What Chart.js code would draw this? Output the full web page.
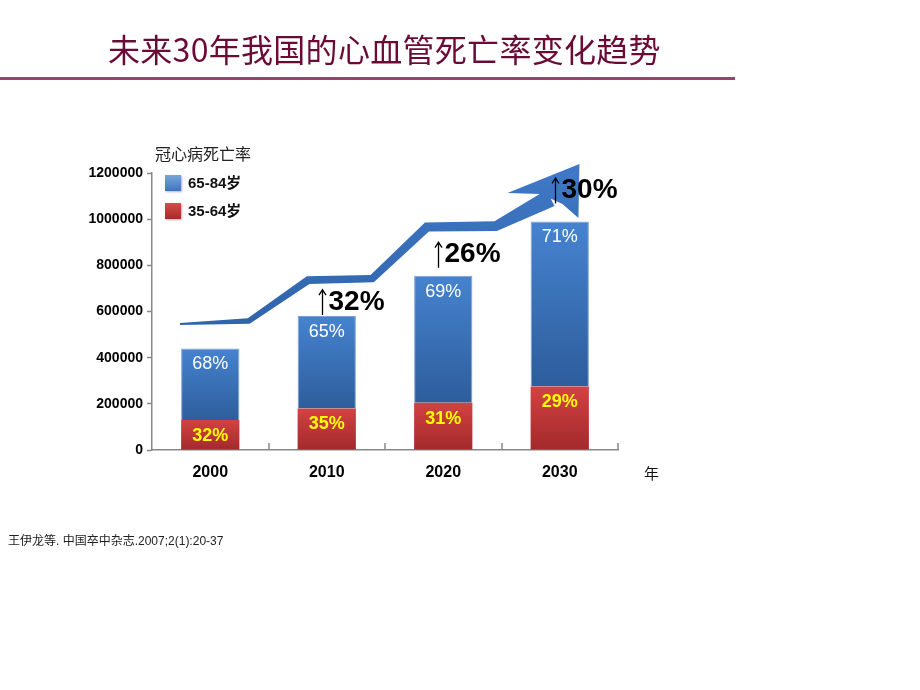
<!DOCTYPE html>
<html>
<head>
<meta charset="utf-8">
<script src="https://cdn.jsdelivr.net/npm/chart.js@4"></script>
<style>
  html, body { margin:0; padding:0; background:#fff; }
  #wrap { position:relative; width:920px; height:690px; overflow:hidden; }
  #c { position:absolute; left:0; top:0; }
  .txt { position:absolute; white-space:nowrap; }
  #title { left:108px; top:30px; font:32px/36px "Noto Sans CJK SC", sans-serif; color:#6a0b37; letter-spacing:0.3px; }
  #rule { position:absolute; left:0; top:77px; width:735px; height:3px; background:#a0406e; }
  #ytitle { left:155px; top:143px; font:16px/20px "Noto Sans CJK SC", sans-serif; color:#222; }
  #unit { left:644px; top:463px; font:15px/20px "Noto Sans CJK SC", sans-serif; color:#111; }
  #note { left:8px; top:533px; font:12px/16px "Liberation Sans", "Noto Sans CJK SC", sans-serif; color:#222; }
  .leg { position:absolute; left:165px; font:bold 15px/18px "Liberation Sans", "Noto Sans CJK SC", sans-serif; color:#111; }
  .leg i { display:inline-block; width:16px; height:16px; vertical-align:-3px; margin-right:7px; box-shadow:1px 1px 2px rgba(0,0,0,0.3); }
  .leg .b { background:linear-gradient(#7aa6dc, #3f74bd); }
  .leg .r { background:linear-gradient(#d84a4a, #a82a2a); }
</style>
</head>
<body>
<div id="wrap">
  <canvas id="c" width="920" height="690"></canvas>
  <div id="title" class="txt">未来30年我国的心血管死亡率变化趋势</div>
  <div id="rule"></div>
  <div id="ytitle" class="txt">冠心病死亡率</div>
  <div class="leg" style="top:174px"><i class="b"></i>65-84岁</div>
  <div class="leg" style="top:202px"><i class="r"></i>35-64岁</div>
  <div id="unit" class="txt">年</div>
  <div id="note" class="txt">王伊龙等. 中国卒中杂志.2007;2(1):20-37</div>
</div>
<script>
// data
const years = ["2000", "2010", "2020", "2030"];
const young = [130000, 180000, 205000, 275000];   // 35-64岁
const old = [310000, 400000, 550000, 715000];     // 65-84岁
const pctYoung = [32, 35, 31, 29];
const pctOld = [68, 65, 69, 71];
const growth = [null, "32%", "26%", "30%"];
const yMax = 1200000, yStep = 200000;
// trend arrow centre line (category index, value)
const trendIdx = [-0.26, 0.33, 0.84, 1.39, 1.86, 2.45, 2.92];
const trendVal = [546000, 559000, 736000, 742000, 966000, 970000, 1092000];

function barGrad(c, lo, hi, top, bot) {
  const ch = c.chart, y = ch.scales.y;
  if (!ch.chartArea || !y || c.dataIndex === undefined) return top;
  const i = c.dataIndex;
  const t = y.getPixelForValue(hi[i]), b = y.getPixelForValue(lo[i]);
  const g = ch.ctx.createLinearGradient(0, t, 0, b);
  g.addColorStop(0, top); g.addColorStop(1, bot);
  return g;
}

const trendArrow = {
  id: "trendArrow",
  beforeDatasetsDraw(chart) {
    const x = chart.scales.x, y = chart.scales.y, c = chart.ctx;
    const w = [2, 6, 8, 8, 10, 10, 18];
    const pts = trendIdx.map((v, i) => [x.getPixelForValue(v), y.getPixelForValue(trendVal[i])]);
    const up = [], dn = [];
    pts.forEach((p, i) => {
      const a = pts[Math.max(0, i - 1)], b = pts[Math.min(pts.length - 1, i + 1)];
      let tx = b[0] - a[0], ty = b[1] - a[1];
      const l = Math.hypot(tx, ty); tx /= l; ty /= l;
      const nx = ty, ny = -tx;
      up.push([p[0] + nx * w[i] / 2, p[1] + ny * w[i] / 2]);
      dn.push([p[0] - nx * w[i] / 2, p[1] - ny * w[i] / 2]);
    });
    const g = c.createLinearGradient(0, y.getPixelForValue(yMax), 0, y.getPixelForValue(500000));
    g.addColorStop(0, "#3f78c6"); g.addColorStop(1, "#2f63a9");
    c.save();
    c.fillStyle = g;
    c.beginPath();
    up.forEach((p, i) => i ? c.lineTo(p[0], p[1]) : c.moveTo(p[0], p[1]));
    dn.slice().reverse().forEach(p => c.lineTo(p[0], p[1]));
    c.closePath(); c.fill();
    // head
    const e = pts[pts.length - 1];
    c.beginPath();
    c.moveTo(e[0] - 43, e[1] - 5);
    c.lineTo(e[0] + 29, e[1] - 34);
    c.lineTo(e[0] + 28, e[1] + 20);
    c.lineTo(e[0] + 12, e[1] + 6);
    c.lineTo(e[0] - 10, e[1] - 4);
    c.closePath(); c.fill();
    c.restore();
  }
};

const barLabels = {
  id: "barLabels",
  afterDatasetsDraw(chart) {
    const c = chart.ctx;
    const mY = chart.getDatasetMeta(0), mO = chart.getDatasetMeta(1);
    const dy = [0, 14, 21, 31];
    c.save();
    c.textAlign = "center"; c.textBaseline = "middle";
    mY.data.forEach((b, i) => {
      c.font = 'bold 18px "Liberation Sans"'; c.fillStyle = "#ffff00";
      c.fillText(pctYoung[i] + "%", b.x, b.y + 16);
    });
    mO.data.forEach((b, i) => {
      c.textAlign = "center";
      c.font = '18px "Liberation Sans"'; c.fillStyle = "#ffffff";
      c.fillText(pctOld[i] + "%", b.x, b.y + 16);
      if (!growth[i]) return;
      const ax = Math.round(b.x - 5) + 0.5, cy = b.y - dy[i];
      // thin up arrow
      c.strokeStyle = "#000"; c.lineWidth = 1.3;
      c.beginPath();
      c.moveTo(ax, cy + 13); c.lineTo(ax, cy - 12);
      c.moveTo(ax - 3.5, cy - 7); c.lineTo(ax, cy - 12.5); c.lineTo(ax + 3.5, cy - 7);
      c.stroke();
      c.fillStyle = "#000";
      c.textAlign = "left";
      c.font = 'bold 28px "Liberation Sans"';
      c.fillText(growth[i], ax + 6, cy);
    });
    c.restore();
  }
};

const xTickMarks = {
  id: "xTickMarks",
  afterDraw(chart) {
    const x = chart.scales.x, a = chart.chartArea, c = chart.ctx;
    c.save();
    c.strokeStyle = "#888"; c.lineWidth = 1.5;
    for (let i = 1; i <= years.length; i++) {
      const px = Math.round(x.getPixelForValue(i - 0.5));
      c.beginPath(); c.moveTo(px, a.bottom); c.lineTo(px, a.bottom - 7); c.stroke();
    }
    c.restore();
  }
};

new Chart(document.getElementById("c"), {
  type: "bar",
  data: {
    labels: years,
    datasets: [
      { label: "35-64岁", data: young, borderWidth: 0,
        backgroundColor: c => barGrad(c, young.map(() => 0), young, "#d34242", "#a3292b") },
      { label: "65-84岁", data: old, borderWidth: 1, borderColor: "rgba(110,150,210,0.9)", borderSkipped: "bottom",
        backgroundColor: c => barGrad(c, young, young.map((v, i) => v + old[i]), "#4683cf", "#2d5d9c") },
    ],
  },
  options: {
    responsive: false, animation: false, devicePixelRatio: 1,
    layout: { padding: { top: 173, right: 302, bottom: 200, left: 0 } },
    datasets: { bar: { categoryPercentage: 0.5, barPercentage: 1 } },
    plugins: { legend: { display: false }, tooltip: { enabled: false } },
    scales: {
      x: { stacked: true, offset: true,
        grid: { display: false, drawTicks: false },
        border: { display: true, color: "#888", width: 1.5 },
        ticks: { color: "#000", padding: 13, font: { family: "Liberation Sans", size: 16, weight: "bold" } },
        afterFit: s => { s.height = 40; } },
      y: { stacked: true, min: 0, max: yMax,
        grid: { drawOnChartArea: false, drawTicks: true, tickLength: 5, color: "#888", tickWidth: 1.5 },
        border: { display: true, color: "#888", width: 1.5 },
        ticks: { stepSize: yStep, color: "#000", padding: 4, callback: v => String(v),
          font: { family: "Liberation Sans", size: 14, weight: "bold" } },
        afterFit: s => { s.width = 152; } },
    },
  },
  plugins: [trendArrow, barLabels, xTickMarks],
});
</script>
</body>
</html>
